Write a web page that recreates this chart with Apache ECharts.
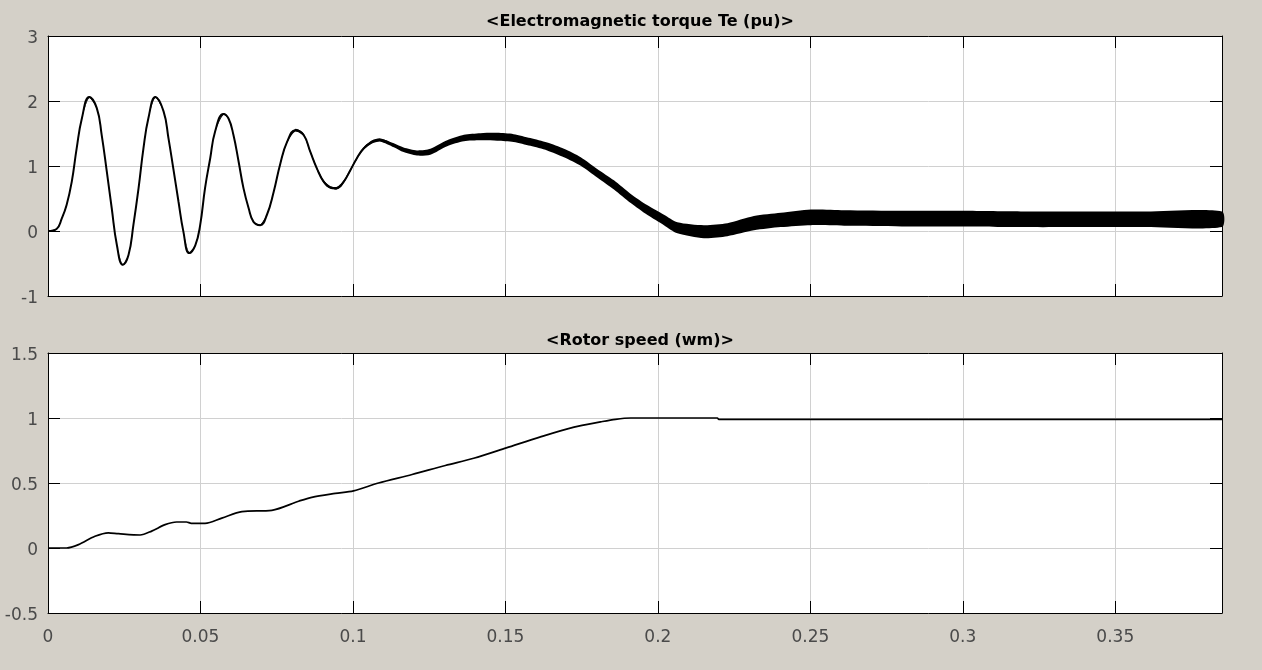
<!DOCTYPE html>
<html>
<head>
<meta charset="utf-8">
<script src="https://cdn.jsdelivr.net/npm/echarts@6/dist/echarts.min.js"></script>
<style>
html,body{margin:0;padding:0;background:#d4d0c8;}
#chart{width:1262px;height:670px;}
</style>
</head>
<body>
<div id="chart"></div>
<script>
// ---- data ----
var titles = ['<Electromagnetic torque Te (pu)>', '<Rotor speed (wm)>'];

var teTime = [0,0.0028,0.0045,0.0061,0.0078,0.0094,0.0111,0.0135,0.016,0.0176,0.0193,0.0209,0.0226,0.0245,0.0264,0.028,0.0297,0.0313,0.0329,0.0352,0.0379,0.0395,0.0411,0.0428,0.0444,0.0463,0.0483,0.0499,0.0515,0.0532,0.0548,0.0575,0.0592,0.0608,0.0625,0.0641,0.0658,0.0674,0.0696,0.0718,0.074,0.0762,0.0784,0.0811,0.0838,0.086,0.0882,0.0904,0.0926,0.0948,0.097,0.0992,0.1013,0.1035,0.1063,0.109,0.1134,0.1166,0.121,0.1254,0.1309,0.1364,0.1418,0.1473,0.1527,0.1582,0.1637,0.1692,0.1747,0.1801,0.1856,0.1911,0.1966,0.202,0.2064,0.2151,0.2228,0.2315,0.2403,0.2502,0.2611,0.28,0.30,0.32,0.34,0.36,0.385];
var teValue = [0,0.03,0.19,0.40,0.76,1.27,1.73,2.06,1.89,1.48,0.91,0.35,-0.22,-0.52,-0.37,0.09,0.66,1.27,1.73,2.06,1.84,1.43,0.96,0.45,-0.01,-0.34,-0.22,0.09,0.66,1.12,1.53,1.80,1.73,1.48,1.07,0.66,0.35,0.14,0.09,0.25,0.60,1.04,1.37,1.55,1.48,1.22,0.96,0.76,0.67,0.66,0.76,0.94,1.12,1.27,1.37,1.40,1.32,1.25,1.20,1.22,1.35,1.43,1.45,1.45,1.43,1.37,1.30,1.20,1.07,0.89,0.71,0.50,0.32,0.17,0.05,-0.01,0.02,0.12,0.17,0.21,0.20,0.19,0.19,0.18,0.18,0.18,0.18];
// half width of the high-frequency ripple band (pu)
var teRipple = [0,0.01,0.01,0.01,0.01,0.01,0.01,0.015,0.01,0.01,0.01,0.01,0.01,0.01,0.01,0.01,0.01,0.01,0.01,0.015,0.01,0.01,0.01,0.01,0.01,0.01,0.01,0.01,0.01,0.01,0.01,0.015,0.01,0.01,0.01,0.01,0.01,0.01,0.01,0.01,0.015,0.015,0.02,0.02,0.02,0.02,0.02,0.02,0.02,0.02,0.02,0.02,0.02,0.02,0.025,0.025,0.03,0.035,0.04,0.045,0.045,0.05,0.055,0.06,0.06,0.06,0.06,0.065,0.065,0.065,0.07,0.07,0.075,0.08,0.085,0.1,0.1,0.11,0.11,0.12,0.12,0.12,0.12,0.12,0.12,0.12,0.12];

var wmTime = [0,0.0061,0.01,0.0154,0.0198,0.0231,0.0302,0.034,0.0384,0.0422,0.0454,0.047,0.0515,0.057,0.0636,0.0734,0.0822,0.0865,0.0942,0.1002,0.1084,0.1194,0.1303,0.1396,0.1503,0.1615,0.1725,0.1812,0.1861,0.1911,0.2195,0.22,0.385];
var wmValue = [0,0,0.026,0.09,0.117,0.11,0.10,0.13,0.18,0.20,0.20,0.19,0.19,0.23,0.28,0.29,0.36,0.39,0.42,0.44,0.50,0.565,0.635,0.69,0.77,0.855,0.93,0.97,0.99,1.0,1.0,0.99,0.99];

var xMin = 0, xMax = 0.385, xStep = 0.05;
var teMin = -1, teMax = 3, teStep = 1;
var wmMin = -0.5, wmMax = 1.5, wmStep = 0.5;

// ---- build ----
function pairs(t, v) { return t.map(function (x, i) { return [x, v[i]]; }); }
var teMean = pairs(teTime, teValue);
var teBandData = teTime.map(function (x, i) { return [x, teValue[i] - teRipple[i], teValue[i] + teRipple[i]]; });
var wm = pairs(wmTime, wmValue);

var FONT = '"DejaVu Sans", sans-serif';
var labelColor = '#4a4a4a';
var gridLineColor = '#d0d0d0';
var L = 48, W = 1174, H = 260;
var tops = [36, 353];

function xAx(gridIndex, pos, showLabel) {
  return {
    type: 'value', gridIndex: gridIndex, position: pos,
    min: xMin, max: xMax, interval: xStep,
    axisLine: { show: true, onZero: false, lineStyle: { color: '#000', width: 1 } },
    axisTick: { show: true, inside: true, length: 12, lineStyle: { color: '#000', width: 1 } },
    axisLabel: { show: showLabel, showMaxLabel: false, color: labelColor, fontFamily: FONT, fontSize: 17, margin: 16 },
    splitLine: { show: pos === 'bottom', lineStyle: { color: gridLineColor, width: 1 } }
  };
}
function yAx(gridIndex, pos, mn, mx, st) {
  return {
    type: 'value', gridIndex: gridIndex, position: pos,
    min: mn, max: mx, interval: st,
    axisLine: { show: true, onZero: false, lineStyle: { color: '#000', width: 1 } },
    axisTick: { show: true, inside: true, length: 12, lineStyle: { color: '#000', width: 1 } },
    axisLabel: { show: pos === 'left', color: labelColor, fontFamily: FONT, fontSize: 17, margin: 10,
                 verticalAlign: 'top', lineHeight: 6 },
    splitLine: { show: pos === 'left', lineStyle: { color: gridLineColor, width: 1 } }
  };
}

var option = {
  backgroundColor: '#d4d0c8',
  animation: false,
  title: [
    { text: titles[0], left: 635, top: 9, textAlign: 'center',
      textStyle: { fontFamily: FONT, fontSize: 16, fontWeight: 'bold', color: '#000' } },
    { text: titles[1], left: 635, top: 328, textAlign: 'center',
      textStyle: { fontFamily: FONT, fontSize: 16, fontWeight: 'bold', color: '#000' } }
  ],
  grid: [
    { left: L, top: tops[0], width: W, height: H, show: true, backgroundColor: '#fff', borderWidth: 0 },
    { left: L, top: tops[1], width: W, height: H, show: true, backgroundColor: '#fff', borderWidth: 0 }
  ],
  xAxis: [xAx(0, 'bottom', false), xAx(1, 'bottom', true), xAx(0, 'top', false), xAx(1, 'top', false)],
  yAxis: [yAx(0, 'left', teMin, teMax, teStep), yAx(1, 'left', wmMin, wmMax, wmStep),
          yAx(0, 'right', teMin, teMax, teStep), yAx(1, 'right', wmMin, wmMax, wmStep)],
  series: [
    { type: 'custom', xAxisIndex: 0, yAxisIndex: 0, data: teBandData, silent: true,
      encode: { x: 0, y: [1, 2] },
      renderItem: function (params, api) {
        if (params.dataIndex !== 0) return null;
        var up = [], lo = [];
        for (var i = 0; i < teBandData.length; i++) {
          up.push(api.coord([teBandData[i][0], teBandData[i][2]]));
          lo.unshift(api.coord([teBandData[i][0], teBandData[i][1]]));
        }
        return { type: 'polygon', shape: { points: up.concat(lo), smooth: 0.25 }, style: { fill: '#000' } };
      } },
    { type: 'line', xAxisIndex: 0, yAxisIndex: 0, data: teMean, smooth: 0.45,
      showSymbol: false, lineStyle: { color: '#000', width: 2 } },
    { type: 'line', xAxisIndex: 1, yAxisIndex: 1, data: wm, smooth: 0.3,
      showSymbol: false, lineStyle: { color: '#000', width: 1.7 } }
  ]
};

var chart = echarts.init(document.getElementById('chart'), null, { renderer: 'canvas' });
chart.setOption(option);
</script>
</body>
</html>
